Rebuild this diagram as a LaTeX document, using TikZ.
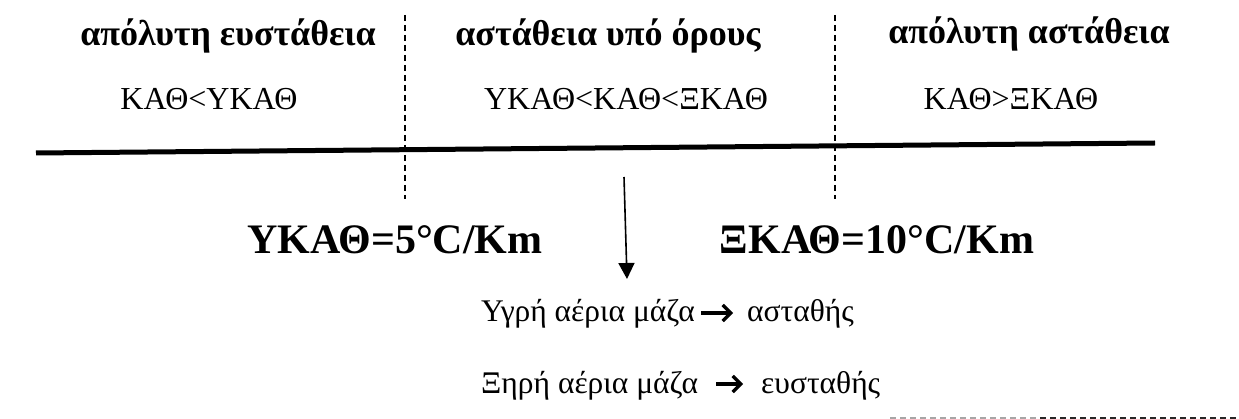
\documentclass[tikz,border=0pt]{standalone}
\usepackage{fontspec}
\setmainfont{Liberation Serif}
\usetikzlibrary{arrows.meta,calc}
\tikzset{
  head/.style={font=\bfseries\fontsize{36}{40}\selectfont, anchor=base, inner sep=0pt},
  cond/.style={font=\fontsize{32}{34}\selectfont, anchor=base, inner sep=0pt},
  rate/.style={font=\bfseries\fontsize{42}{46}\selectfont, anchor=base, inner sep=0pt},
  note/.style={font=\fontsize{31.5}{34}\selectfont, anchor=base west, inner sep=0pt},
  divider/.style={line width=1.3pt, dash pattern=on 6pt off 4pt},
  axis/.style={line width=5pt},
  wing/.style={line width=3.2pt, -{Straight Barb[length=8pt,width=16pt]}},
}
\begin{document}
\begin{tikzpicture}[x=1pt,y=-1pt]
\useasboundingbox (0,0) rectangle (1239,419);
% headings
\node[head] (t1) at (228,46) {απόλυτη ευστάθεια};
\node[head] (t2) at (608,46) {αστάθεια υπό όρους};
\node[head] (t3) at (1029,44) {απόλυτη αστάθεια};
% conditions
\node[cond] (r1) at (209,110) {ΚΑΘ<ΥΚΑΘ};
\node[cond] (r2) at (626,110) {ΥΚΑΘ<ΚΑΘ<ΞΚΑΘ};
\node[cond] (r3) at (1011,110) {ΚΑΘ>ΞΚΑΘ};
% main line
\coordinate (la) at (36,153);
\coordinate (lb) at (1155,143);
\draw[axis] (la) -- (lb);
% dividers
\coordinate (d1a) at (405,15);
\coordinate (d1b) at (405,199);
\coordinate (d2a) at (835,15);
\coordinate (d2b) at (835,199);
\draw[divider] (d1a) -- (d1b);
\draw[divider] (d2a) -- (d2b);
% rates
\node[rate] (b1) at (395,254) {ΥΚΑΘ=5°C/Km};
\node[rate] (b2) at (877,254) {ΞΚΑΘ=10°C/Km};
% arrow
\coordinate (aa) at (624,177);
\coordinate (ab) at (627,279);
\draw[line width=1.6pt, -{Triangle[width=16pt,length=16pt]}] (aa) -- (ab);
% notes
\node[note] (l1a) at (481,322) {Υγρή αέρια μάζα};
\node[note] (l1b) at (747,322) {ασταθής};
\node[note] (l2a) at (481,393) {Ξηρή αέρια μάζα};
\node[note] (l2b) at (761,393) {ευσταθής};
\draw[wing] ($(l1a.base east)+(6,-9)$) -- ($(l1b.base west)+(-14,-9)$);
\draw[wing] ($(l2a.base east)+(18,-9)$) -- ($(l2b.base west)+(-18,-9)$);
% bottom dashed edge
\coordinate (ea) at (890,417.5);
\coordinate (em) at (1040,417.5);
\coordinate (eb) at (1239,417.5);
\draw[line width=2pt, dash pattern=on 6pt off 4pt, black!35] (ea) -- (em);
\draw[line width=2pt, dash pattern=on 6pt off 4pt, black!85] (em) -- (eb);
\end{tikzpicture}
\end{document}
